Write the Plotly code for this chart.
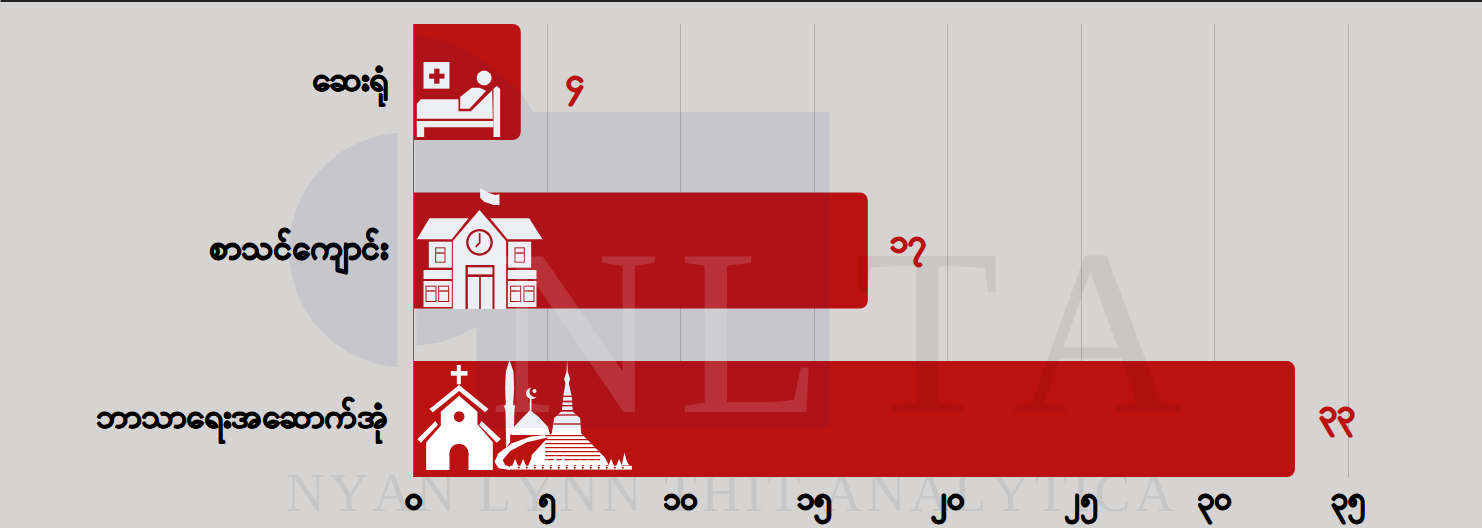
import math
import plotly.graph_objects as go

cats = ["ဘာသာရေးအဆောက်အုံ", "စာသင်ကျောင်း", "ဆေးရုံ"]
vals = [33, 17, 4]
labels = ["၃၃", "၁၇", "၄"]
label_xshift = [22, 20, 43]
label_yshift = [7, 8, 0]
ticks = [0, 5, 10, 15, 20, 25, 30, 35]
ticklabels = ["၀", "၅", "၁၀", "၁၅", "၂၀", "၂၅", "၃၀", "၃၅"]

RED = "#bb1111"
BG = "#d5d4d2"
WHITE = "#ffffff"
DARK = "#b01416"
WM = "rgba(44,56,132,0.08)"

L, R, T, B = 413.5, 1350.67, 24.0, 477.0
def X(p): return (p - L) / (R - L)
def Y(p): return (B - p) / (B - T)
def heavy(color, w):
    return ",".join(f"{dx}px {dy}px 0 {color}" for dx, dy in [(w, 0), (-w, 0), (0, w), (0, -w)])

shapes = []
def path(pts, color, ox=0, oy=0, s=1.0, close=True):
    d = "M" + " L".join(f"{X(ox + x * s):.5f},{Y(oy + y * s):.5f}" for x, y in pts) + (" Z" if close else "")
    shapes.append(dict(type="path", xref="paper", yref="paper", path=d, fillcolor=color, line=dict(width=0)))
def rect(x0, y0, x1, y1, color, ox=0, oy=0, s=1.0):
    path([(x0, y0), (x1, y0), (x1, y1), (x0, y1)], color, ox, oy, s)
def circ(cx, cy, r, color, ox=0, oy=0, s=1.0):
    pts = [(cx + r * math.cos(i * math.pi / 18), cy + r * math.sin(i * math.pi / 18)) for i in range(36)]
    path(pts, color, ox, oy, s)
def frame(x0, y0, x1, y1, ox, oy, s, w=3):
    rect(x0 - w, y0 - w, x1 + w, y1 + w, DARK, ox, oy, s)
    rect(x0, y0, x1, y1, WHITE, ox, oy, s)

# hospital icon
o = (413, 22, 1 / 3)
rect(30, 120, 108, 200, WHITE, *o)
rect(47, 155, 93, 170, RED, *o)
rect(62, 140, 78, 185, RED, *o)
circ(212, 168, 22, WHITE, *o)
path([(140, 225), (175, 197), (198, 197), (218, 206), (168, 260), (140, 260)], WHITE, *o)
path([(10, 290), (10, 245), (22, 232), (135, 232), (135, 268), (172, 268), (236, 205), (238, 290)], WHITE, *o)
path([(240, 345), (240, 200), (250, 192), (260, 200), (260, 345)], WHITE, *o)
rect(10, 297, 240, 316, WHITE, *o)
rect(10, 297, 32, 345, WHITE, *o)

# school icon
o = (413, 185, 1 / 3)
path([(200, 10), (222, 22), (245, 30), (258, 28), (258, 60), (240, 60), (212, 50), (200, 38)], WHITE, *o)
path([(10, 163), (48, 100), (165, 100), (115, 163)], WHITE, *o)
path([(230, 100), (347, 100), (387, 163), (282, 163)], WHITE, *o)
path([(118, 168), (198, 75), (278, 168), (278, 372), (118, 372)], WHITE, *o)
circ(198, 172, 40, DARK, *o)
circ(198, 172, 33, WHITE, *o)
path([(196, 145), (201, 145), (201, 175), (188, 188), (185, 184), (196, 172)], DARK, *o)
rect(156, 240, 243, 372, DARK, *o)
rect(163, 247, 237, 268, WHITE, *o)
rect(163, 276, 197, 372, WHITE, *o)
rect(202, 276, 237, 372, WHITE, *o)
for dx in (0, 238):
    rect(46 + dx, 170, 115 + dx, 248, WHITE, *o)
    frame(68 + dx, 190, 93 + dx, 230, *o)
    rect(68 + dx, 202, 93 + dx, 206, DARK, *o)
rect(30, 255, 115, 282, WHITE, *o)
rect(283, 255, 369, 282, WHITE, *o)
rect(30, 288, 115, 366, WHITE, *o)
rect(283, 288, 369, 366, WHITE, *o)
for x0 in (39, 77, 293, 333):
    frame(x0, 305, x0 + 27, 348, *o)
    rect(x0, 316, x0 + 27, 320, DARK, *o)

# religious buildings icon
o = (413, 355, 1 / 3)
W = "#ffffff"
rect(130, 30, 142, 88, W, *o)
rect(112, 48, 162, 62, W, *o)
path([(48, 162), (137, 90), (225, 162), (215, 172), (137, 108), (58, 172)], W, *o)
path([(82, 170), (137, 122), (192, 170), (192, 208), (238, 262), (238, 345), (38, 345), (38, 262), (82, 212)], W, *o)
circ(137, 185, 16, RED, *o)
rect(108, 295, 165, 345, RED, *o)
circ(136.5, 295, 28.5, RED, *o)
path([(12, 252), (66, 198), (73, 210), (22, 263)], W, *o)
path([(262, 252), (204, 198), (197, 210), (250, 263)], W, *o)
path([(288, 15), (300, 50), (302, 100), (299, 150), (305, 152), (303, 165), (301, 235), (290, 240), (290, 262), (278, 278), (276, 165), (271, 152), (277, 150), (275, 100), (277, 50)], WHITE, *o)
path([(295, 240), (302, 215), (330, 185), (350, 165), (375, 185), (403, 215), (410, 240)], WHITE, *o)
rect(349, 125, 354, 166, WHITE, *o)
circ(355, 115, 17, W, *o)
circ(364, 110, 16, RED, *o)
circ(363, 108, 6, W, *o)
path([(412, 238), (350, 245), (295, 265), (255, 295), (243, 320), (255, 340), (290, 345), (300, 340), (275, 330), (268, 315), (290, 288), (340, 262), (412, 245)], W, *o)
path([(461, 15), (463, 50), (470, 72), (466, 85), (475, 125), (478, 170), (500, 190), (503, 235), (575, 308), (585, 330), (350, 330), (355, 300), (415, 235), (422, 190), (445, 168), (450, 120), (456, 85), (452, 72), (459, 50)], WHITE, *o)
for y0, h in [(122, 4), (137, 5), (150, 4), (165, 5), (178, 4), (205, 4), (240, 4), (252, 4), (264, 4), (276, 4), (288, 4), (300, 4), (312, 4)]:
    rect(420, y0, 510, y0 + h, RED, *o) if y0 < 230 else rect(395, y0, 560, y0 + h, RED, *o)
rect(290, 332, 655, 345, W, *o)
for i in range(14):
    x0 = 296 + i * 24
    path([(x0, 333), (x0 + 9, 312 - (i in (5, 6)) * 12), (x0 + 18, 333)], W, *o)
    circ(x0 + 20, 338, 3, RED, *o)
path([(625, 331), (633, 293), (640, 318), (647, 331)], W, *o)
rect(290, 342, 655, 345, "#e79a9a", *o)

# watermark logo
c = (406, 250, 117.5)
a0 = math.acos((397 - c[0]) / c[2])
circle_pts = [(c[0] + c[2] * math.cos(a0 + (2 * math.pi - 2 * a0) * i / 60),
               c[1] - c[2] * math.sin(a0 + (2 * math.pi - 2 * a0) * i / 60)) for i in range(61)]
path(circle_pts, WM)
path([(414, 34), (440, 40), (463, 49), (480, 59), (496, 72), (510, 83), (520, 92), (533, 112),
      (829, 112), (829, 428), (476, 428), (476, 327), (460, 335), (440, 342), (416, 346)], WM)
# rule at top of page
shapes.append(dict(type="rect", xref="paper", yref="paper", x0=X(0), x1=X(1482), y0=Y(2), y1=Y(0), fillcolor="#222222", line=dict(width=0)))

SERIF = "Liberation Serif"
annotations = []
for letter, px, col in [("N", 574, "rgba(255,255,255,0.13)"), ("L", 750, "rgba(255,255,255,0.13)"),
                        ("T", 927, "rgba(0,0,0,0.06)"), ("A", 1097, "rgba(0,0,0,0.06)")]:
    annotations.append(dict(text=letter, xref="paper", yref="paper", x=X(px), y=Y(331.5), showarrow=False,
                            xanchor="center", yanchor="middle", font=dict(family=SERIF, size=237, color=col)))
annotations.append(dict(text="\u200a".join("NYAN LYNN THIT ANALYTICA"), xref="paper", yref="paper", x=X(730), y=Y(492.5),
                        showarrow=False, xanchor="center", yanchor="middle",
                        font=dict(family=SERIF, size=54, color="rgba(70,70,90,0.09)")))
for cat, val, lab, sx, sy in zip(cats, vals, labels, label_xshift, label_yshift):
    annotations.append(dict(text=lab, x=val, y=cat, xref="x", yref="y", showarrow=False, xanchor="left", yanchor="middle",
                            xshift=sx, yshift=sy, font=dict(family="Noto Sans", size=32, color=RED, weight=700, shadow=heavy(RED, 0.65))))

fig = go.Figure(go.Bar(y=cats, x=vals, orientation="h", marker=dict(color=RED, line=dict(width=0)), width=0.688))
fig.update_layout(width=1482, height=528, margin=dict(l=413.5, r=1482 - R, t=24, b=51, pad=0, autoexpand=False),
                  paper_bgcolor=BG, plot_bgcolor=BG, barcornerradius=8, showlegend=False,
                  font=dict(family="Noto Sans", color="black"), shapes=shapes, annotations=annotations)
fig.update_xaxes(range=[0, 35.1], tickvals=ticks, ticktext=ticklabels, gridcolor="#aeaeae", gridwidth=1, showline=False,
                 zeroline=False, ticks="", tickangle=0, tickfont=dict(size=31, weight=700, color="black", shadow=heavy("black", 0.65)))
fig.update_yaxes(range=[-0.344, 2.344], showline=True, linecolor="#666666", linewidth=1, ticks="", ticklabelstandoff=18,
                 ticklabelshift=-3, tickfont=dict(size=33, weight=700, color="black", shadow=heavy("black", 0.65)), showgrid=False)
fig.write_html("out.html", config=dict(displayModeBar=False),
               post_script="document.body.style.margin='0';document.documentElement.style.overflow='hidden';")
